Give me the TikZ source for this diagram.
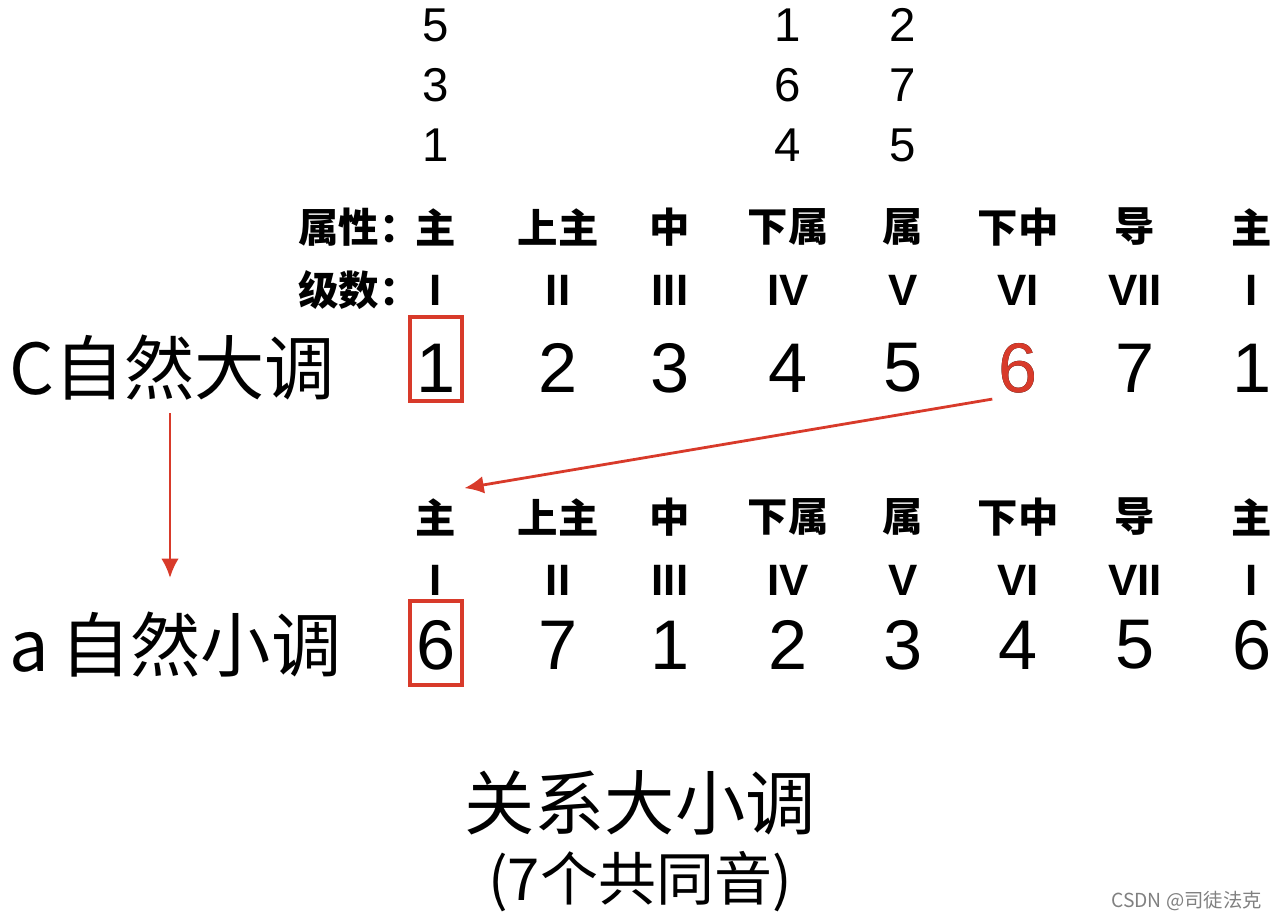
\documentclass[tikz,border=0pt]{standalone}
\usepackage{fontspec}
\setmainfont{Liberation Sans}
\newfontfamily\cjk{Noto Sans CJK SC}
\usetikzlibrary{arrows.meta}

\definecolor{keyred}{HTML}{D83A2A}

\tikzset{
  topnum/.style={font=\fontsize{27}{27}\selectfont},
  prop/.style={font=\cjk\bfseries\fontsize{23}{23}\selectfont},
  degree/.style={font=\bfseries\fontsize{25}{25}\selectfont},
  note/.style={font=\fontsize{40}{40}\selectfont},
  keyname/.style={font=\cjk\fontsize{40}{40}\selectfont, anchor=west},
  tonicbox/.style={draw=keyred, line width=1.9pt, minimum width=1.04cm, minimum height=1.68cm, inner sep=0pt},
  shiftarrow/.style={draw=keyred, line width=1.6pt, -{Latex[length=11pt,width=10pt]}},
}

\begin{document}
\begin{tikzpicture}[x=0.02cm,y=-0.02cm]
  \useasboundingbox (0,0) rectangle (1283,920);

  % chord tones above the scale
  \node[topnum] (t15) at (436,25) {5};
  \node[topnum] (t13) at (436,85) {3};
  \node[topnum] (t11) at (436,145) {1};
  \node[topnum] (t41) at (788,25) {1};
  \node[topnum] (t46) at (788,85) {6};
  \node[topnum] (t44) at (788,145) {4};
  \node[topnum] (t52) at (903,25) {2};
  \node[topnum] (t57) at (903,85) {7};
  \node[topnum] (t55) at (903,145) {5};

  \node[prop, anchor=west, inner sep=0pt] (proplbl) at (298,227) {属性：};
  \node[prop, anchor=west, inner sep=0pt] (deglbl) at (298,290) {级数：};

  \node[keyname] (major) at (3,368) {C自然大调};
  \node[keyname] (minor) at (3,645) {a\,自然小调};

  % the two scales
  \foreach \x/\p/\d/\ma/\mi [count=\i] in {436/主/I/1/6, 558/上主/II/2/7, 670/中/III/3/1,
      788/下属/IV/4/2, 903/属/V/5/3, 1018/下中/VI/6/4, 1135/导/VII/7/5, 1252/主/I/1/6}{
    \node[prop] (pa\i) at (\x,227) {\p};
    \node[degree] (da\i) at (\x,290) {\d};
    \node[note] (ma\i) at (\x,368) {\ma};
    \node[prop] (pb\i) at (\x,517) {\p};
    \node[degree] (db\i) at (\x,580) {\d};
    \node[note] (mi\i) at (\x,645) {\mi};
  }
  \node[note, text=keyred] at (ma6) {6};

  \node[tonicbox] (box1) at (436,359) {};
  \node[tonicbox] (box2) at (436,643) {};

  \coordinate (ca) at (170,413);
  \coordinate (cb) at (170,578);
  \draw[shiftarrow] (ma6.south west) -- ([shift={(2,-4)}]pb1.north east);
  \draw[shiftarrow] (ca) -- (cb);

  \node[font=\cjk\fontsize{40}{40}\selectfont] (rel) at (640,803) {关系大小调};
  \node[font=\cjk\fontsize{33}{33}\selectfont] (common) at (640,882) {(7个共同音)};

  \node[font=\cjk\fontsize{11}{11}\selectfont, text=gray, anchor=east] (mark) at (1268,901) {CSDN @司徒法克};
\end{tikzpicture}
\end{document}
